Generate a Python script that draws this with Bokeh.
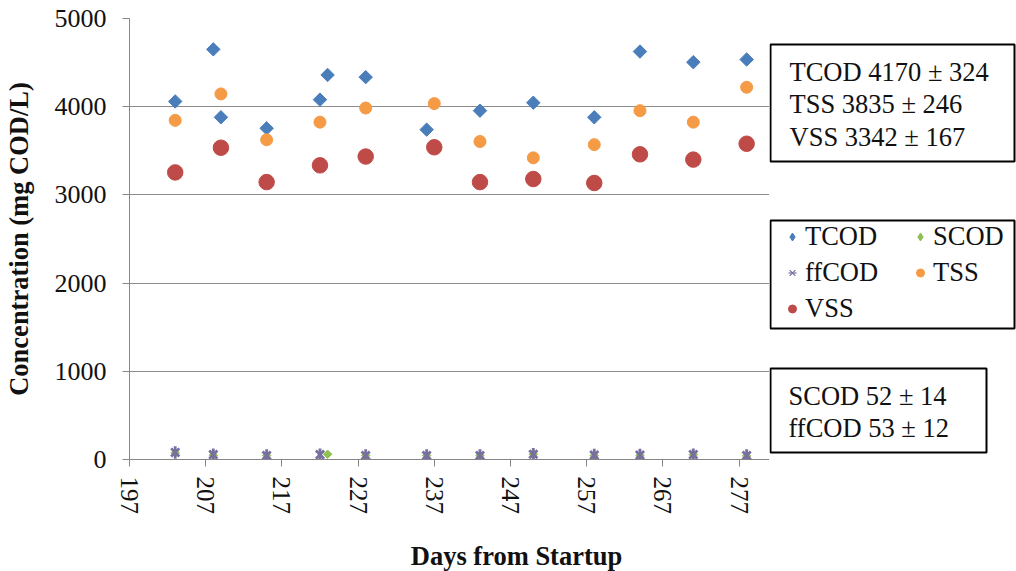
import numpy as np
from bokeh.plotting import figure
from bokeh.layouts import row, column
from bokeh.models import (Range1d, FixedTicker, Legend, LegendItem,
                          BoxAnnotation, Label)
from bokeh.embed import file_html
from bokeh.resources import INLINE

FONT = "Liberation Serif"
INK = "#111111"

# --- measured concentrations (mg COD/L) by day from startup ---
tcod_days = [203, 208, 209, 215, 222, 223, 228, 236, 243, 250, 258, 264, 271, 278]
tcod = [4060, 4650, 3880, 3755, 4080, 4360, 4335, 3740, 3955, 4045, 3880, 4625, 4505, 4535]

scod_days = [203, 208, 215, 223, 228, 236, 243, 250, 258, 264, 271, 278]
scod = [75, 50, 45, 60, 45, 45, 45, 60, 45, 45, 55, 40]

ffcod_days = [203, 208, 215, 222, 228, 236, 243, 250, 258, 264, 271, 278]
ffcod = [80, 55, 45, 55, 45, 45, 45, 60, 50, 50, 55, 45]

ss_days = [203, 209, 215, 222, 228, 237, 243, 250, 258, 264, 271, 278]
tss = [3845, 4145, 3625, 3825, 3985, 4035, 3605, 3420, 3570, 3955, 3825, 4220]
vss = [3255, 3535, 3145, 3335, 3435, 3540, 3145, 3180, 3135, 3460, 3400, 3580]

x_ticks = [197, 207, 217, 227, 237, 247, 257, 267, 277]
y_ticks = [0, 1000, 2000, 3000, 4000, 5000]

# summary statistics (mean ± sd)
stats_high = [("TCOD", 4170, 324), ("TSS", 3835, 246), ("VSS", 3342, 167)]
stats_low = [("SCOD", 52, 14), ("ffCOD", 53, 12)]

BLUE, GREEN, PURPLE, ORANGE, RED = "#4a7ebb", "#8fc150", "#77709f", "#f59a45", "#be4b48"

# marker styles of the plotted series
STYLE = {
    "TCOD": [dict(marker="square", angle=np.pi / 4, size=9.5,
                  fill_color=BLUE, line_color=BLUE)],
    "SCOD": [dict(marker="square", angle=np.pi / 4, size=6,
                  fill_color=GREEN, line_color=GREEN)],
    "ffCOD": [dict(marker="x", size=11.5, line_color=PURPLE, line_width=2.8),
              dict(marker="dash", angle=np.pi / 2, size=12.5,
                   line_color=PURPLE, line_width=2.8)],
    "TSS": [dict(marker="circle", size=12, fill_color=ORANGE, line_color=ORANGE)],
    "VSS": [dict(marker="circle", size=15.5, fill_color=RED, line_color=RED)],
}
# legend swatches (legend glyphs ignore marker rotation)
KEY_STYLE = dict(STYLE)
KEY_STYLE["TCOD"] = [dict(marker="diamond", fill_color=BLUE, line_color=BLUE)]
KEY_STYLE["SCOD"] = [dict(marker="diamond", fill_color=GREEN, line_color=GREEN)]
KEY_STYLE["ffCOD"] = [dict(marker="x", line_color=PURPLE, line_width=1.2),
                      dict(marker="dash", angle=np.pi / 2,
                           line_color=PURPLE, line_width=1.2)]

# --- layout geometry (pixels) ---
W, H = 1016, 571
FL, FR, FT, FB = 129, 769, 18, 459   # frame edges of the main plot
TH = 31                              # height of the strip holding the x title
PH = H - TH                          # height of the plot row

# ================= main plot =================
p = figure(width=FR, height=PH, output_backend="svg", toolbar_location=None,
           x_range=Range1d(197, 281), y_range=Range1d(0, 5000),
           min_border_left=FL, min_border_right=0,
           min_border_top=FT, min_border_bottom=PH - FB)
p.outline_line_color = None
p.background_fill_color = "white"
p.border_fill_color = "white"

p.xgrid.visible = False
p.ygrid.ticker = FixedTicker(ticks=y_ticks)
p.ygrid.grid_line_color = "#8c8c8c"

AX = "#868686"
for ax in (p.xaxis[0], p.yaxis[0]):
    ax.axis_line_color = AX
    ax.major_tick_line_color = AX
    ax.minor_tick_line_color = None
    ax.major_tick_in = 0
    ax.major_tick_out = 7
    ax.major_label_text_font = FONT
    ax.major_label_text_color = INK

p.xaxis.ticker = FixedTicker(ticks=x_ticks)
p.xaxis.major_label_orientation = -np.pi / 2
p.xaxis.major_label_standoff = 10
p.xaxis.major_label_text_font_size = "25px"

p.yaxis.ticker = FixedTicker(ticks=y_ticks)
p.yaxis.major_label_standoff = 16
p.yaxis.major_label_text_font_size = "26px"
p.yaxis.axis_label = "Concentration (mg COD/L)"
p.yaxis.axis_label_text_font = FONT
p.yaxis.axis_label_text_font_size = "26.5px"
p.yaxis.axis_label_text_font_style = "bold"
p.yaxis.axis_label_text_color = INK
p.yaxis.axis_label_standoff = 18

series = [("TCOD", tcod_days, tcod), ("SCOD", scod_days, scod),
          ("ffCOD", ffcod_days, ffcod), ("TSS", ss_days, tss), ("VSS", ss_days, vss)]
for name, xs, ys in series:
    for st in STYLE[name]:
        p.scatter(xs, ys, **st)

# ================= side panel: legend and summary boxes =================
# same frame rows as the main plot; one data unit = one pixel,
# y measured downward from the top of the canvas
s = figure(width=W - FR, height=PH, output_backend="svg", toolbar_location=None,
           x_range=Range1d(FR, W), y_range=Range1d(FB, FT),
           x_axis_location=None, y_axis_location=None,
           min_border_left=0, min_border_right=0,
           min_border_top=FT, min_border_bottom=PH - FB)
s.outline_line_color = None
s.background_fill_color = "white"
s.border_fill_color = "white"
s.grid.visible = False


def frame_box(left, right, top, bottom):
    return BoxAnnotation(left=left, right=right, top=top, bottom=bottom,
                         fill_color="white", fill_alpha=1.0,
                         line_color="black", line_alpha=1.0, line_width=2)


s.add_layout(frame_box(FR + 1, 1014, 44, 161))
s.add_layout(frame_box(FR + 1, 1014, 220, 328))
s.add_layout(frame_box(FR + 1, 986, 368, 452))


def text_line(x, mid, txt):
    return Label(x=x, y=mid, text=txt, text_font=FONT,
                 text_font_size="26.5px", text_color=INK,
                 text_align="left", text_baseline="middle")


for i, (name, m, sd) in enumerate(stats_high):
    s.add_layout(text_line(789, 71 + 32.5 * i, f"{name} {m} \u00b1 {sd}"))
for i, (name, m, sd) in enumerate(stats_low):
    s.add_layout(text_line(788, 395 + 32 * i, f"{name} {m} \u00b1 {sd}"))

# legend swatches: one undrawn point each
items = []
for name in ["TCOD", "SCOD", "ffCOD", "TSS", "VSS"]:
    rs = [s.scatter(x=np.array([np.nan]), y=np.array([np.nan]), **st)
          for st in KEY_STYLE[name]]
    items.append(LegendItem(label=name, renderers=rs))

legend = Legend(
    items=items, orientation="horizontal", ncols=2,
    location=(782 - FR, FB - 324),
    glyph_width=20, glyph_height=31, label_height=31, label_width=100,
    label_standoff=3, spacing=5, padding=0, margin=0,
    label_text_font=FONT, label_text_font_size="26.5px",
    label_text_color=INK,
    border_line_color=None, background_fill_alpha=0,
)
s.add_layout(legend)

# ================= x-axis title strip =================
t = figure(width=W, height=TH, output_backend="svg", toolbar_location=None,
           x_range=Range1d(FL, FR), y_range=Range1d(H, PH),
           x_axis_location=None, y_axis_location=None,
           min_border_left=FL, min_border_right=W - FR,
           min_border_top=0, min_border_bottom=0)
t.outline_line_color = None
t.background_fill_color = "white"
t.border_fill_color = "white"
t.grid.visible = False
t.add_layout(Label(x=516, y=555, text="Days from Startup", text_font=FONT,
                   text_font_size="26.5px", text_font_style="bold",
                   text_color=INK, text_align="center",
                   text_baseline="middle"))

layout = column(row(p, s, spacing=0), t, spacing=0)
open("out.html", "w").write(file_html(layout, INLINE))
